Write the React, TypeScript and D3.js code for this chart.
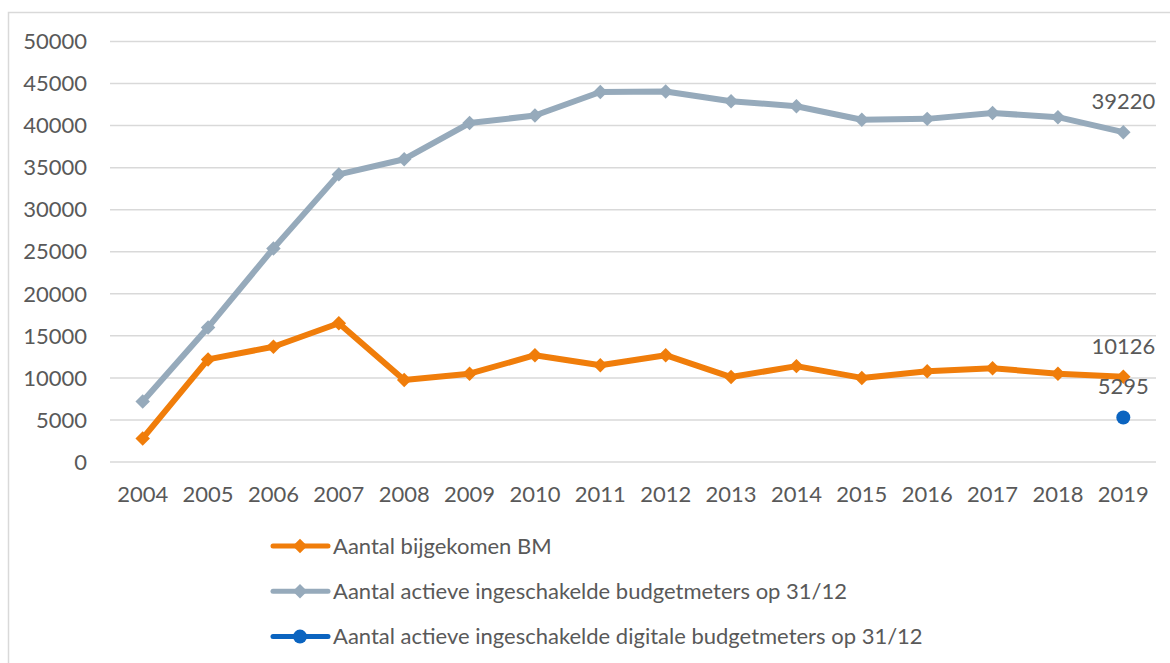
import React, { useRef, useEffect } from 'react';
import * as d3 from 'd3';

const years = ['2004', '2005', '2006', '2007', '2008', '2009', '2010', '2011', '2012', '2013', '2014', '2015', '2016', '2017', '2018', '2019'];
const bijgekomen = [2800, 12200, 13700, 16500, 9750, 10500, 12700, 11500, 12700, 10100, 11400, 10000, 10800, 11150, 10500, 10126];
const actief = [7200, 16000, 25400, 34200, 36000, 40300, 41200, 44000, 44050, 42900, 42300, 40700, 40800, 41500, 41000, 39220];
const digitaal = [{ year: '2019', value: 5295 }];
const yTicks = [0, 5000, 10000, 15000, 20000, 25000, 30000, 35000, 40000, 45000, 50000];
const legendLabels = [
  'Aantal bijgekomen BM',
  'Aantal actieve ingeschakelde budgetmeters op 31/12',
  'Aantal actieve ingeschakelde digitale budgetmeters op 31/12'
];

const orange = '#F07D0A';
const grey = '#96AABB';
const blue = '#0B64C0';
const textColor = '#595959';
const gridColor = '#D9D9D9';
const font = 'Lato, "Open Sans", sans-serif';
const fontSize = '22px';

const App = () => {
  const svgRef = useRef<SVGSVGElement>(null);

  useEffect(() => {
    const svg = d3.select(svgRef.current);
    svg.selectAll('*').remove();

    // outer border (runs off the right and bottom edge)
    svg.append('rect')
      .attr('x', 8.5).attr('y', 12.5)
      .attr('width', 1180).attr('height', 680)
      .attr('fill', '#fff')
      .attr('stroke', gridColor)
      .attr('stroke-width', 1.5);

    const x = d3.scaleBand().domain(years).range([110, 1156]);
    const y = d3.scaleLinear().domain([0, 50000]).range([462, 41.5]);
    const cx = (d: string) => (x(d) as number) + x.bandwidth() / 2;

    // gridlines + y labels
    svg.append('g').selectAll('line')
      .data(yTicks).enter().append('line')
      .attr('x1', 110).attr('x2', 1156)
      .attr('y1', d => y(d)).attr('y2', d => y(d))
      .attr('stroke', gridColor).attr('stroke-width', 1.5);

    svg.append('g').selectAll('text')
      .data(yTicks).enter().append('text')
      .attr('x', 87).attr('y', d => y(d))
      .attr('dy', '0.35em')
      .attr('text-anchor', 'end')
      .style('font-family', font).style('font-size', fontSize)
      .style('fill', textColor)
      .text(d => d);

    svg.append('g').selectAll('text')
      .data(years).enter().append('text')
      .attr('x', d => cx(d)).attr('y', 502)
      .attr('text-anchor', 'middle')
      .style('font-family', font).style('font-size', fontSize)
      .style('fill', textColor)
      .text(d => d);

    const line = d3.line<number>()
      .x((_, i) => cx(years[i]))
      .y(d => y(d));

    // square rotated 45deg gives the Excel-style diamond marker
    const diamond = d3.symbol().type(d3.symbolSquare).size(105);

    const drawSeries = (vals: number[], color: string) => {
      svg.append('path')
        .datum(vals)
        .attr('d', line)
        .attr('fill', 'none')
        .attr('stroke', color)
        .attr('stroke-width', 6)
        .attr('stroke-linejoin', 'round');
      svg.append('g').selectAll('path')
        .data(vals).enter().append('path')
        .attr('d', diamond)
        .attr('transform', (d, i) => `translate(${cx(years[i])},${y(d)}) rotate(45)`)
        .attr('fill', color);
    };

    drawSeries(actief, grey);
    drawSeries(bijgekomen, orange);

    svg.append('g').selectAll('circle')
      .data(digitaal).enter().append('circle')
      .attr('cx', d => cx(d.year)).attr('cy', d => y(d.value))
      .attr('r', 7).attr('fill', blue);

    // data labels on last points
    const labels = [
      { year: '2019', value: actief[actief.length - 1] },
      { year: '2019', value: bijgekomen[bijgekomen.length - 1] },
      digitaal[0]
    ];
    svg.append('g').selectAll('text')
      .data(labels).enter().append('text')
      .attr('x', d => cx(d.year)).attr('y', d => y(d.value) - 31)
      .attr('dy', '0.35em')
      .attr('text-anchor', 'middle')
      .style('font-family', font).style('font-size', fontSize)
      .style('fill', textColor)
      .text(d => d.value);

    // legend
    const legendColors = [orange, grey, blue];
    const legend = svg.append('g');
    legendLabels.forEach((label, i) => {
      const ly = 546 + i * 45.3;
      legend.append('line')
        .attr('x1', 273).attr('x2', 328)
        .attr('y1', ly).attr('y2', ly)
        .attr('stroke', legendColors[i]).attr('stroke-width', 5)
        .attr('stroke-linecap', 'round');
      if (i < 2) {
        legend.append('path')
          .attr('d', diamond)
          .attr('transform', `translate(300,${ly}) rotate(45)`)
          .attr('fill', legendColors[i]);
      } else {
        legend.append('circle')
          .attr('cx', 300).attr('cy', ly).attr('r', 7)
          .attr('fill', legendColors[i]);
      }
      legend.append('text')
        .attr('x', 333).attr('y', ly)
        .attr('dy', '0.35em')
        .style('font-family', font).style('font-size', fontSize)
        .style('fill', textColor)
        .text(label);
    });
  }, []);

  return (
    <svg ref={svgRef} width={1170} height={663}
      style={{ position: 'absolute', left: 0, top: 0, background: '#fff' }}></svg>
  );
};

export default App;
